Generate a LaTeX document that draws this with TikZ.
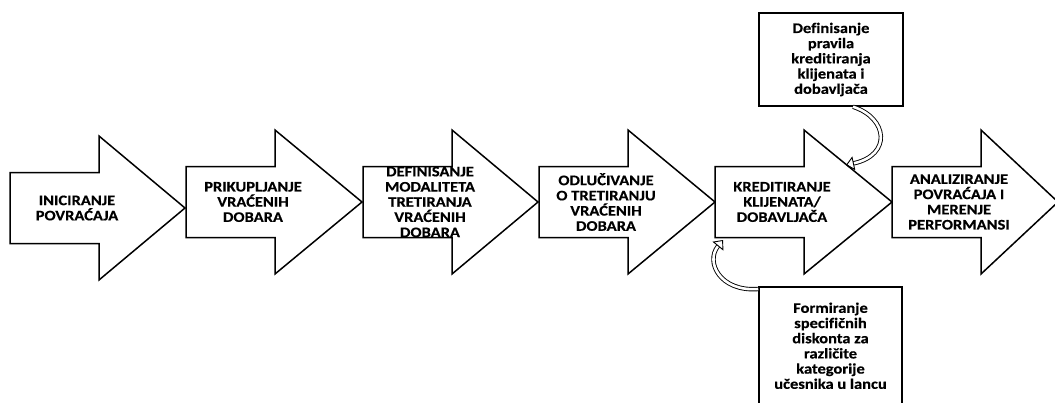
\documentclass[tikz,border=0pt]{standalone}
\usepackage{fontspec}
\setmainfont{Carlito}[FakeStretch=1.13, Ligatures={NoCommon}, BoldFeatures={FakeBold=0.4}]
\usetikzlibrary{arrows.meta}

% block arrow of the process chain: name, left x, centre y, tip x, label
\newcommand\flowarrow[5]{%
  \draw[blockarrow] (#2,#3-35.5) -- (#2+89,#3-35.5) -- (#2+89,#3-72) -- (#4,#3)
    -- (#2+89,#3+72) -- (#2+89,#3+35.5) -- (#2,#3+35.5) -- cycle;
  \node[arrowtext] (#1) at (#2+67,#3) {#5};
}

\begin{document}
\begin{tikzpicture}[x=1pt,y=-1pt,
  blockarrow/.style={draw=black, line width=1.5pt, fill=white, line join=miter},
  arrowtext/.style={align=center, font=\bfseries\fontsize{14.6}{15.2}\selectfont, inner sep=0pt},
  notebox/.style={draw=black, line width=1.5pt, fill=white, align=center,
    font=\bfseries\fontsize{14.6}{15.2}\selectfont, inner sep=0pt},
  bendlink/.style={draw=black, line width=0.9pt, double=white, double distance=2.6pt,
    -{Triangle[open, length=8pt, width=14pt]}}
]
\useasboundingbox (0,0) rectangle (1055,402);
\clip (0,0) rectangle (1055,402);

\flowarrow{start}{10}{208}{185}{INICIRANJE\\POVRAĆAJA}
\flowarrow{collect}{186}{202}{362}{PRIKUPLJANJE\\VRAĆENIH\\DOBARA}
\flowarrow{modes}{363}{202}{538}{DEFINISANJE\\MODALITETA\\TRETIRANJA\\VRAĆENIH\\DOBARA}
\flowarrow{decide}{539}{202}{715}{ODLUČIVANJE\\O TRETIRANJU\\VRAĆENIH\\DOBARA}
\flowarrow{credit}{715}{202}{892}{KREDITIRANJE\\KLIJENATA/\\DOBAVLJAČA}
\flowarrow{analyse}{892}{202}{1058}{ANALIZIRANJE\\POVRAĆAJA I\\MERENJE\\PERFORMANSI}

% supporting activities
\node[notebox, minimum width=144pt, minimum height=93pt] (rules) at (831,59.5)
  {Definisanje\\pravila\\kreditiranja\\klijenata i\\dobavljača};
\node[notebox, anchor=north, minimum width=143pt, minimum height=118pt] (discounts) at (830.5,286)
  {Formiranje\\specifičnih\\diskonta za\\različite\\kategorije\\učesnika u lancu};

% curved links into the crediting step
\coordinate (rules foot) at ([xshift=22pt]rules.south);
\coordinate (credit top) at ([shift={(64,-37)}]credit.center);
\coordinate (discounts side) at ([yshift=-3pt]discounts.north west);
\coordinate (credit bottom) at ([shift={(-59,38)}]credit.center);

\draw[bendlink] (rules foot) .. controls (888,118) and (892,155) .. (credit top);
\draw[bendlink] (discounts side) .. controls (720,292) and (705,262) .. (credit bottom);
\end{tikzpicture}
\end{document}
